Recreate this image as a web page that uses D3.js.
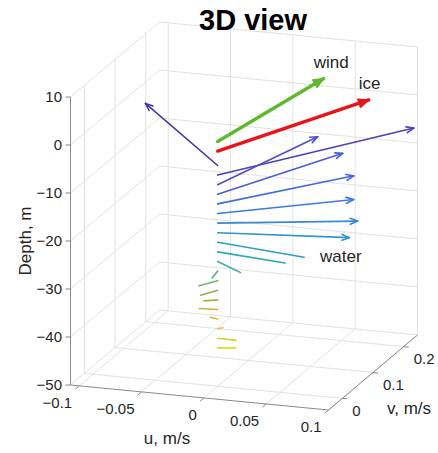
<!DOCTYPE html>
<html>
<head>
<meta charset="utf-8">
<script src="https://cdn.jsdelivr.net/npm/d3@7"></script>
<style>
  body { margin: 0; background: #fff; }
  text { font-family: "Liberation Sans", Arial, Helvetica, sans-serif; fill: #262626; }
</style>
</head>
<body>
<svg id="chart" width="438" height="453"></svg>
<script>
// water current profile: bins every 2 m, arrows start at u = v = 0
const waterDepth = [-4, -6, -8, -10, -12, -14, -16, -18, -20, -22, -24, -26, -28, -30, -32, -34, -36, -38, -40, -42];
const waterU = [-0.105, 0.101, 0.031, 0.055, 0.074, 0.086, 0.099, 0.099, 0.075, 0.058, 0.026, 0.002, -0.009, -0.008, -0.009, -0.014, -0.007, 0.003, 0.015, 0.013];
const waterV = [0.191, 0.229, 0.200, 0.184, 0.143, 0.094, 0.054, 0.027, -0.023, -0.016, -0.031, -0.026, -0.024, -0.023, -0.008, -0.003, 0.004, 0.005, -0.001, 0.006];

// surface vectors
const surfNames = ["wind", "ice"];
const surfDepth = [1, -1];
const surfU = [0.0225, 0.0651];
const surfV = [0.254, 0.228];
const surfColors = ["#5fb830", "#e8141c"];

const uTicks = [-0.1, -0.05, 0, 0.05, 0.1];
const vTicks = [0, 0.1, 0.2];
const zTicks = [-50, -40, -30, -20, -10, 0, 10];

// MATLAB parula samples, toned down a little like the printed figure
const parula = ["#3e26a8", "#484cf0", "#327bfc", "#20a5e3", "#19bfb6", "#72cd64", "#d1bf27", "#f7dc2a", "#f9fb15"];
const colorOf = d3.scaleLinear()
  .domain(d3.range(parula.length).map(i => i / (parula.length - 1)))
  .range(parula.map(c => d3.interpolateRgb(c, "#6a6a7a")(0.22)))
  .interpolate(d3.interpolateRgb);

const svg = d3.select("#chart");

const uMin = -0.107, uMax = 0.1, vMin = -0.045, vMax = 0.245, zMin = -50, zMax = 10;
const uScale = d3.scaleLinear().domain([uMin, uMax]).range([0, 1]);
const vScale = d3.scaleLinear().domain([vMin, vMax]).range([0, 1]);
const zScale = d3.scaleLinear().domain([zMin, zMax]).range([0, 1]);

// screen basis of the box (view of the 3D axes)
const O = [70.5, 385], EU = [258, 25], EV = [89, -75], EZ = [0, -288];
function proj(u, v, z) {
  const a = uScale(u), b = vScale(v), c = zScale(z);
  return [O[0] + a * EU[0] + b * EV[0] + c * EZ[0],
          O[1] + a * EU[1] + b * EV[1] + c * EZ[1]];
}
const line = d3.line();

// grid
const grid = svg.append("g").attr("fill", "none").attr("stroke", "#e2e2e2").attr("stroke-width", 1);
function seg(p, q) { grid.append("path").attr("d", line([p, q])); }
uTicks.forEach(u => {
  seg(proj(u, vMax, zMin), proj(u, vMax, zMax));   // back wall
  seg(proj(u, vMin, zMin), proj(u, vMax, zMin));   // floor
});
vTicks.forEach(v => {
  seg(proj(uMin, v, zMin), proj(uMin, v, zMax));   // left wall
  seg(proj(uMin, v, zMin), proj(uMax, v, zMin));   // floor
});
zTicks.forEach(z => {
  seg(proj(uMin, vMax, z), proj(uMax, vMax, z));
  seg(proj(uMin, vMin, z), proj(uMin, vMax, z));
});

// axes
const ax = svg.append("g").attr("fill", "none").attr("stroke", "#8a8a8a").attr("stroke-width", 1);
ax.append("path").attr("d", line([proj(uMin, vMin, zMin), proj(uMin, vMin, zMax)]));
ax.append("path").attr("d", line([proj(uMin, vMin, zMin), proj(uMax, vMin, zMin)]));
ax.append("path").attr("d", line([proj(uMax, vMin, zMin), proj(uMax, vMax, zMin)]));

const fmt = d => (d < 0 ? "\u2212" : "") + Math.abs(d);
const evLen = Math.hypot(EV[0], EV[1]), euLen = Math.hypot(EU[0], EU[1]);

zTicks.forEach(z => {
  const p = proj(uMin, vMin, z);
  ax.append("path").attr("d", line([p, [p[0] - 5, p[1]]]));
  svg.append("text").attr("x", p[0] - 8.5).attr("y", p[1]).attr("dy", "0.35em")
    .attr("text-anchor", "end").attr("font-size", 15).text(fmt(z));
});
uTicks.forEach(u => {
  const p = proj(u, vMin, zMin);
  ax.append("path").attr("d", line([p, [p[0] - 5 * EV[0] / evLen, p[1] - 5 * EV[1] / evLen]]));
  svg.append("text").attr("x", p[0] - 7).attr("y", p[1] + 17).attr("dy", "0.35em")
    .attr("text-anchor", "end").attr("font-size", 15).text(fmt(u));
});
vTicks.forEach(v => {
  const p = proj(uMax, v, zMin);
  ax.append("path").attr("d", line([p, [p[0] + 5 * EU[0] / euLen, p[1] + 5 * EU[1] / euLen]]));
  svg.append("text").attr("x", p[0] + 10).attr("y", p[1] + 12).attr("dy", "0.35em")
    .attr("text-anchor", "start").attr("font-size", 15).text(fmt(v));
});

// axis labels
svg.append("text").attr("transform", "translate(25,241) rotate(-90)").attr("dy", "0.35em")
  .attr("text-anchor", "middle").attr("font-size", 17).text("Depth, m");
svg.append("text").attr("x", 167).attr("y", 438).attr("dy", "0.35em")
  .attr("text-anchor", "middle").attr("font-size", 17).text("u, m/s");
svg.append("text").attr("x", 409).attr("y", 408).attr("dy", "0.35em")
  .attr("text-anchor", "middle").attr("font-size", 17).text("v, m/s");

// title
svg.append("text").attr("x", 253).attr("y", 30).attr("text-anchor", "middle")
  .attr("font-size", 29).attr("font-weight", "bold").style("fill", "#000").text("3D view");

// arrows
function arrow(g, z, u, v, color, width, head, filled) {
  const p = proj(0, 0, z), q = proj(u, v, z);
  g.append("path").attr("d", line([p, q])).attr("stroke", color).attr("stroke-width", width)
    .attr("fill", "none").attr("stroke-linecap", "round");
  if (head <= 0) return q;
  const ang = Math.atan2(q[1] - p[1], q[0] - p[0]);
  const spread = filled ? 0.4 : 0.38;
  const w1 = [q[0] - head * Math.cos(ang - spread), q[1] - head * Math.sin(ang - spread)];
  const w2 = [q[0] - head * Math.cos(ang + spread), q[1] - head * Math.sin(ang + spread)];
  if (filled) {
    g.append("path").attr("d", line([w1, q, w2]) + "Z").attr("fill", color).attr("stroke", color)
      .attr("stroke-width", 1.5).attr("stroke-linejoin", "round");
  } else {
    g.append("path").attr("d", line([w1, q, w2])).attr("fill", "none").attr("stroke", color)
      .attr("stroke-width", width).attr("stroke-linejoin", "round").attr("stroke-linecap", "round");
  }
  return q;
}

const arrows = svg.append("g");
const n = waterDepth.length;
let waterLabelAt = null;
waterDepth.forEach((z, i) => {
  const mag = Math.hypot(waterU[i], waterV[i]);
  const head = Math.max(0, Math.min(8, (mag - 0.085) * 450));
  const tip = arrow(arrows, z, waterU[i], waterV[i], colorOf(i / (n - 1)), 1.6, head, false);
  if (z === -20) waterLabelAt = tip;
});
surfNames.forEach((name, i) => {
  const tip = arrow(arrows, surfDepth[i], surfU[i], surfV[i], surfColors[i], 3.4, 11, true);
  svg.append("text").attr("x", tip[0] - 10).attr("y", tip[1] - 11).attr("font-size", 17).text(name);
});
svg.append("text").attr("x", waterLabelAt[0] + 16).attr("y", waterLabelAt[1] + 5)
  .attr("font-size", 17).text("water");
</script>
</body>
</html>
